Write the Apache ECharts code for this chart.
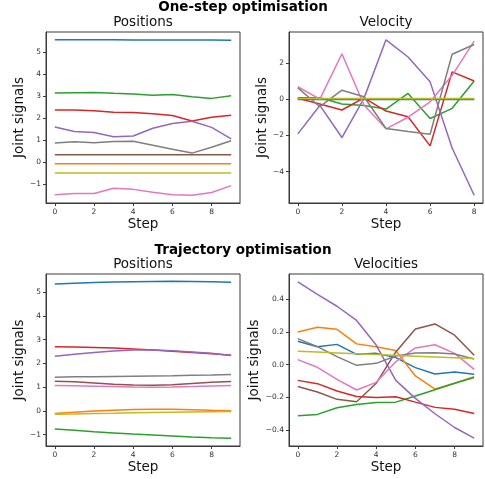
<!DOCTYPE html>
<html>
<head>
<meta charset="utf-8">
<script src="https://cdn.jsdelivr.net/npm/echarts@6/dist/echarts.min.js"></script>
<style>
    * { margin: 0; padding: 0; }
    body { background: #fff; }
    #chart { width: 485px; height: 479px; }
</style>
</head>
<body>
<div id="chart"></div>
<script>
    // matplotlib tab10 order, one colour per joint
    const colors = ['#1f77b4', '#ff7f0e', '#2ca02c', '#d62728', '#9467bd', '#8c564b', '#e377c2', '#7f7f7f', '#bcbd22']

    // One-step optimisation, positions (steps 0..9)
    const oneStepPos = [
        [5.57, 5.57, 5.57, 5.57, 5.56, 5.56, 5.56, 5.56, 5.56, 5.55],
        [-0.07, -0.07, -0.07, -0.07, -0.07, -0.07, -0.07, -0.07, -0.07, -0.07],
        [3.15, 3.16, 3.17, 3.13, 3.10, 3.04, 3.08, 2.97, 2.90, 3.02],
        [2.37, 2.37, 2.34, 2.27, 2.26, 2.20, 2.12, 1.87, 2.04, 2.13],
        [1.60, 1.39, 1.35, 1.15, 1.19, 1.54, 1.76, 1.86, 1.58, 1.06],
        [0.33, 0.33, 0.33, 0.33, 0.33, 0.33, 0.33, 0.33, 0.33, 0.33],
        [-1.49, -1.43, -1.43, -1.19, -1.24, -1.37, -1.48, -1.51, -1.38, -1.07],
        [0.87, 0.93, 0.88, 0.94, 0.95, 0.77, 0.59, 0.41, 0.68, 0.97],
        [-0.5, -0.5, -0.5, -0.5, -0.5, -0.5, -0.5, -0.5, -0.5, -0.5]
    ]

    // One-step optimisation, velocity (steps 0..8)
    const oneStepVel = [
        [-0.02, -0.02, -0.02, -0.02, -0.02, -0.02, -0.02, -0.02, -0.02],
        [0.01, 0.01, 0.01, 0.01, 0.01, 0.01, 0.01, 0.01, 0.01],
        [0.07, 0.07, -0.27, -0.35, -0.55, 0.31, -1.07, -0.51, 1.0],
        [0.04, -0.27, -0.6, 0.07, -0.66, -0.97, -2.58, 1.5, 1.0],
        [-1.92, -0.35, -2.12, 0.04, 3.27, 2.32, 0.95, -2.7, -5.3],
        [0.0, 0.0, 0.0, 0.0, 0.0, 0.0, 0.0, 0.0, 0.0],
        [0.68, 0.0, 2.5, -0.33, -1.64, -1.0, -0.15, 1.31, 3.2],
        [0.62, -0.42, 0.49, 0.13, -1.62, -1.79, -1.94, 2.47, 3.01],
        [0.03, 0.03, 0.03, 0.03, 0.03, 0.03, 0.03, 0.03, 0.03]
    ]

    // Trajectory optimisation, positions (steps 0..9)
    const trajPos = [
        [5.34, 5.37, 5.40, 5.42, 5.43, 5.44, 5.45, 5.44, 5.43, 5.41],
        [-0.11, -0.06, -0.01, 0.03, 0.06, 0.07, 0.07, 0.05, 0.02, 0.0],
        [-0.76, -0.82, -0.88, -0.93, -0.98, -1.02, -1.06, -1.10, -1.13, -1.15],
        [2.70, 2.69, 2.67, 2.64, 2.60, 2.56, 2.51, 2.46, 2.40, 2.34],
        [2.30, 2.38, 2.46, 2.52, 2.56, 2.56, 2.53, 2.48, 2.42, 2.33],
        [1.25, 1.22, 1.17, 1.12, 1.09, 1.08, 1.10, 1.15, 1.20, 1.24],
        [1.07, 1.06, 1.04, 1.02, 1.00, 0.99, 1.00, 1.02, 1.05, 1.07],
        [1.41, 1.43, 1.44, 1.45, 1.46, 1.47, 1.48, 1.50, 1.51, 1.53],
        [-0.14, -0.13, -0.11, -0.10, -0.08, -0.07, -0.06, -0.05, -0.04, -0.03]
    ]

    // Trajectory optimisation, velocities (steps 0..9)
    const trajVel = [
        [0.143, 0.11, 0.124, 0.063, 0.069, 0.043, -0.018, -0.057, -0.045, -0.059],
        [0.2, 0.229, 0.216, 0.127, 0.11, 0.086, -0.069, -0.149, -0.114, -0.073],
        [-0.312, -0.304, -0.263, -0.243, -0.231, -0.229, -0.192, -0.153, -0.114, -0.078],
        [-0.096, -0.116, -0.161, -0.194, -0.2, -0.196, -0.229, -0.261, -0.273, -0.298],
        [0.506, 0.43, 0.357, 0.27, 0.12, -0.096, -0.206, -0.3, -0.384, -0.449],
        [-0.133, -0.167, -0.212, -0.227, -0.114, 0.078, 0.218, 0.249, 0.18, 0.057],
        [0.031, -0.016, -0.09, -0.155, -0.108, 0.018, 0.102, 0.122, 0.069, -0.029],
        [0.159, 0.11, 0.049, -0.004, 0.008, 0.053, 0.071, 0.073, 0.065, 0.035],
        [0.082, 0.077, 0.072, 0.067, 0.062, 0.057, 0.052, 0.047, 0.042, 0.037]
    ]

    const xTicks = [0, 2, 4, 6, 8]
    const posTicks = [-1, 0, 1, 2, 3, 4, 5]
    const velTicksOne = [-4, -2, 0, 2]
    const velTicksTraj = [-0.4, -0.2, 0.0, 0.2, 0.4]

    const font = 'DejaVu Sans'
    const axisColor = '#3a3a3a'

    function fmt(v, d) {
        let s = Math.abs(v).toFixed(d)
        return (v < -1e-9 ? '\u2212' : '') + s
    }

    const panels = [
        {left: 46, top: 32, width: 194, height: 171, xMin: -0.45, xMax: 9.45, yMin: -1.86, yMax: 5.92,
         yTicks: posTicks, dec: 0, gap: 18, data: oneStepPos, title: 'Positions'},
        {left: 289, top: 32, width: 194, height: 171, xMin: -0.4, xMax: 8.4, yMin: -5.73, yMax: 3.7,
         yTicks: velTicksOne, dec: 0, gap: 20, data: oneStepVel, title: 'Velocity'},
        {left: 46, top: 274, width: 194, height: 172, xMin: -0.45, xMax: 9.45, yMin: -1.48, yMax: 5.76,
         yTicks: posTicks, dec: 0, gap: 19, data: trajPos, title: 'Positions'},
        {left: 289, top: 274, width: 194, height: 172, xMin: -0.45, xMax: 9.45, yMin: -0.497, yMax: 0.554,
         yTicks: velTicksTraj, dec: 1, gap: 27, data: trajVel, title: 'Velocities'}
    ]

    let grids = [], xAxes = [], yAxes = [], series = [], texts = []

    panels.forEach(function (p, i) {
        grids.push({
            left: p.left, top: p.top, width: p.width, height: p.height,
            show: true, borderColor: axisColor, borderWidth: 1, backgroundColor: '#fff'
        })
        xAxes.push({
            gridIndex: i, type: 'value', min: p.xMin, max: p.xMax,
            name: 'Step', nameLocation: 'middle', nameGap: 14,
            nameTextStyle: {fontFamily: font, fontSize: 13.5, color: '#111', verticalAlign: 'top'},
            axisLine: {show: true, onZero: false, lineStyle: {color: axisColor, width: 1}},
            axisTick: {show: true, length: 3, customValues: xTicks, lineStyle: {color: axisColor}},
            axisLabel: {customValues: xTicks, margin: 5, fontFamily: font, fontSize: 7.5, color: '#333',
                formatter: function (v) { return fmt(v, 0) }},
            splitLine: {show: false}
        })
        yAxes.push({
            gridIndex: i, type: 'value', min: p.yMin, max: p.yMax,
            name: 'Joint signals', nameLocation: 'middle', nameGap: p.gap,
            nameTextStyle: {fontFamily: font, fontSize: 13.5, color: '#111'},
            axisLine: {show: true, onZero: false, lineStyle: {color: axisColor, width: 1}},
            axisTick: {show: true, length: 3, customValues: p.yTicks, lineStyle: {color: axisColor}},
            axisLabel: {customValues: p.yTicks, margin: 5, fontFamily: font, fontSize: 7.5, color: '#333',
                formatter: function (v) { return fmt(v, p.dec) }},
            splitLine: {show: false}
        })
        p.data.forEach(function (vals, j) {
            series.push({
                type: 'line', xAxisIndex: i, yAxisIndex: i,
                data: vals.map(function (v, k) { return [k, v] }),
                showSymbol: false, symbol: 'none', silent: true,
                lineStyle: {color: colors[j], width: 1.5},
                itemStyle: {color: colors[j]},
                animation: false
            })
        })
        texts.push({
            type: 'text',
            x: p.left + p.width / 2, y: p.top - 10,
            style: {text: p.title, align: 'center', verticalAlign: 'middle',
                font: '13.5px "DejaVu Sans"', fill: '#111'}
        })
    })

    texts.push({
        type: 'text', x: 243, y: 7,
        style: {text: 'One-step optimisation', align: 'center', verticalAlign: 'middle',
            font: 'bold 13.5px "DejaVu Sans"', fill: '#000'}
    })
    texts.push({
        type: 'text', x: 243, y: 250,
        style: {text: 'Trajectory optimisation', align: 'center', verticalAlign: 'middle',
            font: 'bold 13.5px "DejaVu Sans"', fill: '#000'}
    })

    let myChart = echarts.init(document.getElementById('chart'), null, {renderer: 'canvas'})
    myChart.setOption({
        backgroundColor: '#fff',
        animation: false,
        grid: grids,
        xAxis: xAxes,
        yAxis: yAxes,
        series: series,
        graphic: {elements: texts}
    })
</script>
</body>
</html>
